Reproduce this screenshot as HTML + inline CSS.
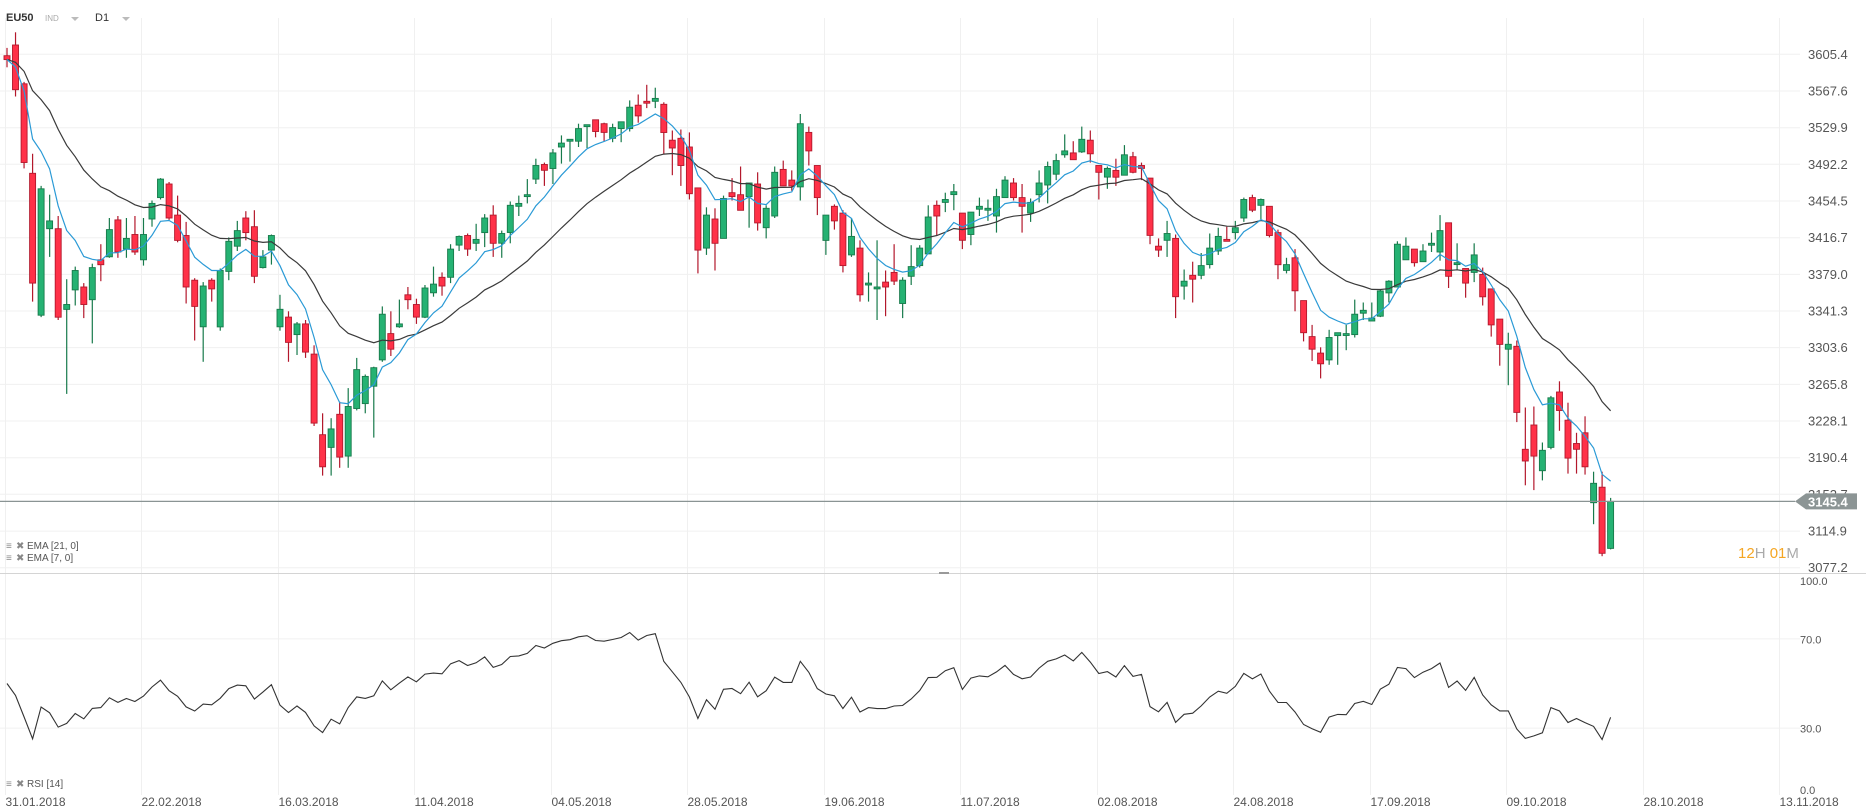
<!DOCTYPE html>
<html><head><meta charset="utf-8"><title>EU50 D1</title>
<style>
html,body{margin:0;padding:0;background:#fff;}
body{width:1866px;height:811px;overflow:hidden;font-family:"Liberation Sans",sans-serif;}
svg{display:block;}
</style></head>
<body>
<svg id="chart" width="1866" height="811" viewBox="0 0 1866 811" xmlns="http://www.w3.org/2000/svg">
  <g id="header">
    <text x="6" y="21" font-size="11" font-weight="bold" fill="#333">EU50</text>
    <text x="45" y="21" font-size="8" fill="#aaa">IND</text>
    <path d="M71 17 L79 17 L75 21 Z" fill="#bbb"/>
    <text x="95" y="21" font-size="11" fill="#333">D1</text>
    <path d="M122 17 L130 17 L126 21 Z" fill="#bbb"/>
  </g>
  <g id="grid"></g>
  <g id="candles"></g>
  <g id="emas"></g>
  <g id="rsi"></g>
  <g id="axes"></g>
  <line x1="0" y1="573.5" x2="1866" y2="573.5" stroke="#d4d4d4" stroke-width="1"/>
  <rect x="939" y="572" width="10" height="2" fill="#999"/>
  <g font-size="10" fill="#555">
    <g>
      <text x="6" y="549" fill="#888">≡</text><text x="16" y="549" fill="#888">✖</text>
      <text x="27" y="549">EMA [21, 0]</text>
    </g>
    <g>
      <text x="6" y="561" fill="#888">≡</text><text x="16" y="561" fill="#888">✖</text>
      <text x="27" y="561">EMA [7, 0]</text>
    </g>
    <g>
      <text x="6" y="787" fill="#888">≡</text><text x="16" y="787" fill="#888">✖</text>
      <text x="27" y="787">RSI [14]</text>
    </g>
  </g>
  <g font-size="15">
    <text x="1738" y="558"><tspan fill="#f5a623">12</tspan><tspan fill="#aaa">H </tspan><tspan fill="#f5a623">01</tspan><tspan fill="#aaa">M</tspan></text>
  </g>
</svg>
<script>
const opens=[3604,3615,3575,3483,3337,3426,3426,3343,3363,3366,3353,3394,3397,3435,3405,3420,3394,3436,3458,3472,3440,3419,3373,3325,3373,3325,3382,3408,3437,3428,3386,3404,3325,3335,3317,3328,3297,3214,3201,3235,3192,3241,3246,3264,3291,3318,3325,3358,3348,3335,3360,3376,3376,3409,3419,3411,3422,3440,3411,3422,3449,3459,3477,3492,3488,3510,3516,3516,3531,3538,3534,3519,3529,3529,3553,3557,3557,3554,3517,3519,3510,3468,3406,3436,3416,3463,3461,3459,3472,3427,3439,3487,3476,3469,3525,3491,3414,3449,3442,3399,3406,3368,3364,3371,3381,3349,3377,3388,3400,3450,3453,3461,3442,3420,3446,3445,3439,3458,3473,3458,3442,3461,3471,3482,3502,3504,3505,3517,3491,3479,3486,3481,3500,3491,3478,3408,3414,3416,3367,3378,3378,3389,3403,3415,3422,3437,3458,3450,3449,3422,3383,3396,3352,3315,3298,3291,3316,3316,3317,3339,3331,3336,3360,3366,3394,3405,3392,3409,3402,3432,3389,3385,3381,3379,3364,3333,3302,3305,3199,3224,3177,3201,3258,3229,3205,3216,3144,3160,3097];
const highs=[3612,3628,3577,3503,3470,3461,3439,3374,3387,3370,3390,3410,3437,3439,3437,3439,3437,3455,3478,3474,3460,3433,3375,3371,3375,3385,3417,3434,3444,3445,3404,3420,3358,3341,3330,3332,3306,3236,3231,3248,3262,3293,3276,3284,3346,3341,3353,3366,3354,3368,3387,3381,3410,3419,3421,3431,3441,3450,3424,3454,3460,3477,3498,3494,3508,3522,3518,3534,3533,3538,3535,3534,3536,3558,3564,3574,3571,3556,3527,3528,3525,3468,3448,3447,3460,3478,3490,3473,3484,3450,3490,3496,3486,3544,3531,3491,3440,3451,3445,3437,3414,3381,3414,3383,3410,3376,3409,3409,3450,3455,3463,3472,3442,3443,3458,3456,3467,3480,3478,3472,3457,3486,3495,3503,3523,3516,3531,3527,3491,3490,3498,3512,3505,3494,3478,3416,3434,3420,3384,3392,3401,3421,3427,3428,3434,3458,3461,3457,3449,3425,3396,3405,3352,3327,3304,3322,3319,3327,3353,3350,3350,3363,3373,3413,3417,3405,3410,3422,3440,3432,3411,3385,3411,3386,3364,3333,3319,3311,3242,3243,3206,3254,3269,3247,3216,3233,3176,3176,3149];
const lows=[3592,3562,3488,3351,3335,3397,3332,3256,3347,3334,3308,3372,3396,3396,3396,3399,3388,3428,3456,3435,3412,3349,3311,3289,3351,3321,3373,3403,3414,3370,3385,3389,3321,3289,3296,3293,3223,3172,3172,3180,3180,3239,3236,3211,3289,3295,3324,3343,3328,3334,3356,3357,3370,3403,3398,3403,3407,3397,3396,3411,3439,3452,3472,3470,3472,3493,3495,3510,3509,3520,3516,3515,3515,3526,3535,3550,3550,3503,3481,3470,3456,3380,3399,3383,3416,3455,3445,3427,3424,3416,3437,3470,3465,3455,3491,3440,3399,3425,3381,3397,3351,3351,3332,3336,3368,3334,3368,3386,3400,3419,3443,3445,3405,3409,3439,3434,3422,3458,3455,3422,3433,3453,3452,3476,3499,3497,3504,3494,3456,3467,3470,3481,3483,3476,3410,3397,3397,3334,3353,3350,3374,3385,3399,3413,3415,3433,3443,3436,3417,3374,3380,3341,3310,3290,3272,3286,3286,3301,3314,3332,3331,3335,3350,3366,3394,3387,3392,3402,3393,3365,3384,3355,3371,3347,3315,3285,3265,3227,3162,3157,3167,3199,3218,3174,3174,3173,3122,3089,3096];
const closes=[3600,3569,3494,3370,3467,3434,3335,3348,3383,3348,3386,3389,3425,3402,3416,3402,3420,3452,3477,3437,3414,3366,3346,3367,3364,3383,3413,3424,3422,3377,3397,3419,3343,3309,3328,3299,3226,3181,3220,3191,3243,3281,3274,3283,3338,3302,3328,3353,3335,3365,3369,3367,3405,3418,3405,3415,3437,3411,3421,3450,3452,3461,3491,3486,3504,3514,3518,3529,3533,3526,3525,3530,3536,3551,3542,3555,3560,3525,3509,3491,3462,3404,3440,3411,3457,3459,3445,3473,3432,3447,3484,3470,3470,3534,3506,3458,3440,3434,3388,3418,3358,3370,3366,3366,3372,3373,3387,3406,3438,3439,3456,3464,3414,3443,3449,3447,3459,3476,3458,3449,3453,3473,3490,3496,3506,3497,3518,3503,3484,3488,3479,3502,3484,3488,3419,3404,3421,3356,3372,3374,3388,3406,3418,3413,3427,3456,3445,3456,3419,3389,3389,3362,3319,3302,3287,3314,3319,3318,3338,3342,3334,3362,3372,3410,3408,3391,3403,3411,3424,3377,3391,3370,3399,3356,3327,3307,3307,3237,3187,3192,3198,3252,3239,3190,3199,3181,3164,3092,3145.4];
const priceTicks=[3605.4,3567.6,3529.9,3492.2,3454.5,3416.7,3379.0,3341.3,3303.6,3265.8,3228.1,3190.4,3152.7,3114.9,3077.2];
const rsiTicks=[100,70,30,0];
const rsiGridTicks=[70,30];
const dateLabels=["31.01.2018","22.02.2018","16.03.2018","11.04.2018","04.05.2018","28.05.2018","19.06.2018","11.07.2018","02.08.2018","24.08.2018","17.09.2018","09.10.2018","28.10.2018","13.11.2018"];
const lastPrice=3145.4;

const NS="http://www.w3.org/2000/svg";
function mk(tag,attrs,parent){const e=document.createElementNS(NS,tag);for(const k in attrs)e.setAttribute(k,attrs[k]);parent.appendChild(e);return e;}
const X0=7, DX=8.53;
function xS(i){return X0+i*DX;}
const P_TOP=3605.4,P_BOT=3077.2,Y_TOP=54.3,Y_BOT=567.7;
function yP(v){return Y_TOP+(P_TOP-v)*(Y_BOT-Y_TOP)/(P_TOP-P_BOT);}
const R_Y100=572,R_Y0=795;
function yR(v){return R_Y0-(v/100)*(R_Y0-R_Y100);}

const grid=document.getElementById('grid');
const axes=document.getElementById('axes');
// horizontal price gridlines + labels
priceTicks.forEach(function(t){
  const l=mk('line',{x1:0,x2:1800,y1:yP(t).toFixed(1),y2:yP(t).toFixed(1),stroke:'#f0f0f0','stroke-width':1},grid);
  
  
  const tx=mk('text',{x:1808,y:(yP(t)+4.5).toFixed(1),'font-size':13,fill:'#555'},axes);
  tx.textContent=t.toFixed(1);
  
  
});
// vertical date gridlines + labels
dateLabels.forEach(function(d,k){
  const x=Math.round(xS(-0.25+16*k))+0.5;
  const l=mk('line',{x1:x,x2:x,y1:18,y2:795,stroke:'#f0f0f0','stroke-width':1},grid);
  
  
  const tx=mk('text',{x:x,y:806,'font-size':12,fill:'#555'},axes);
  tx.textContent=d;
  
  
});
// RSI gridlines and labels
rsiGridTicks.forEach(function(t){
  const l=mk('line',{x1:0,x2:1800,y1:yR(t),y2:yR(t),stroke:'#f0f0f0','stroke-width':1},grid);
  
  
});
rsiTicks.forEach(function(t){
  let y=yR(t)+4.5;
  if(t===100)y=yR(t)+13;
  if(t===0)y=yR(t)-1;
  const tx=mk('text',{x:1800,y:y,'font-size':11,fill:'#555'},axes);
  tx.textContent=t.toFixed(1);
  
  
});

// candles
const cg=document.getElementById('candles');
const GF='#25b273',GB='#177a4b',RF='#ff3148',RB='#b3182c';
for(let i=0;i<closes.length;i++){
  const up=closes[i]>=opens[i];
  const x=xS(i);
  const g=mk('g',{},cg);
  
  
  mk('line',{x1:x,x2:x,y1:yP(highs[i]).toFixed(1),y2:yP(lows[i]).toFixed(1),stroke:up?GB:RB,'stroke-width':1.2},g);
  const top=yP(Math.max(opens[i],closes[i])),bot=yP(Math.min(opens[i],closes[i]));
  mk('rect',{x:(x-3).toFixed(1),y:top.toFixed(1),width:6,height:Math.max(1.5,bot-top).toFixed(1),fill:up?GF:RF,stroke:up?GB:RB,'stroke-width':0.9},g);
}

// EMAs
function ema(src,n){const k=2/(n+1);const out=[src[0]];for(let i=1;i<src.length;i++)out.push(out[i-1]+k*(src[i]-out[i-1]));return out;}
function pathOf(vals,fy){return vals.map(function(v,i){return (i?'L':'M')+xS(i).toFixed(1)+' '+fy(v).toFixed(1);}).join(' ');}
const eg=document.getElementById('emas');
const e21=mk('path',{d:pathOf(ema(closes,21),yP),fill:'none',stroke:'#3a3a3a','stroke-width':1.2},eg);


const e7=mk('path',{d:pathOf(ema(closes,7),yP),fill:'none',stroke:'#2a9ad6','stroke-width':1.2},eg);



// RSI (Wilder 14)
function rsi(src,n){let ag=10,al=10;const out=[50];for(let i=1;i<src.length;i++){const d=src[i]-src[i-1];ag=(ag*(n-1)+Math.max(d,0))/n;al=(al*(n-1)+Math.max(-d,0))/n;out.push(al===0?100:100-100/(1+ag/al));}return out;}
const rg=document.getElementById('rsi');
const rl=mk('path',{d:pathOf(rsi(closes,14),yR),fill:'none',stroke:'#333','stroke-width':1.1},rg);



// last price line + tag
const ly=yP(lastPrice);
const pl=mk('line',{x1:0,x2:1795,y1:ly.toFixed(1),y2:ly.toFixed(1),stroke:'#8a9494','stroke-width':1.2},axes);


const tag=mk('path',{d:'M1795 '+ly.toFixed(1)+' L1806 '+(ly-8).toFixed(1)+' L1857 '+(ly-8).toFixed(1)+' L1857 '+(ly+8).toFixed(1)+' L1806 '+(ly+8).toFixed(1)+' Z',fill:'#8c9595'},axes);


const tt=mk('text',{x:1808,y:(ly+5).toFixed(1),'font-size':13,'font-weight':'bold',fill:'#fff'},axes);
tt.textContent=lastPrice.toFixed(1);


</script>
</body></html>
